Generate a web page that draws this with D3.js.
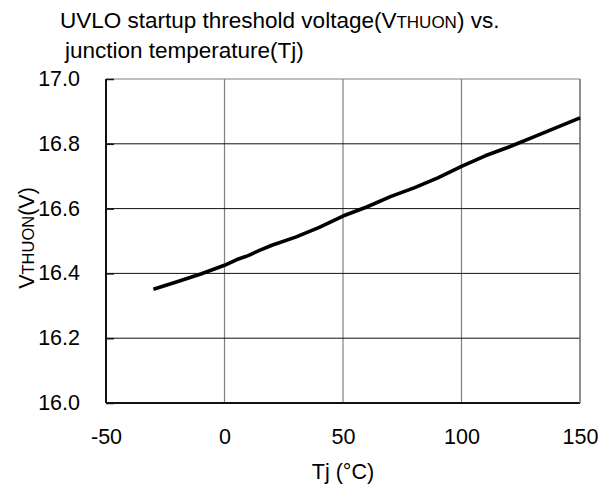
<!DOCTYPE html>
<html><head><meta charset="utf-8">
<script src="https://cdn.jsdelivr.net/npm/d3@7"></script>
<style>
html,body{margin:0;padding:0;background:#fff;}
svg{display:block;font-family:"Liberation Sans",Arial,sans-serif;}
</style></head>
<body><svg id="c" width="601" height="493"></svg>
<script>
const temps = [-30,-20,-10,0,5,10,15,20,30,40,50,60,70,80,90,100,110,120,130,140,150];
const vthuon = [16.351,16.374,16.398,16.425,16.442,16.455,16.472,16.487,16.512,16.542,16.577,16.605,16.637,16.664,16.695,16.730,16.763,16.790,16.820,16.850,16.880];
const xTicks = [-50,0,50,100,150];
const yTicks = [16.0,16.2,16.4,16.6,16.8,17.0];

const svg = d3.select("#c");
const L=106, R=580, T=79, B=403;
const x = d3.scaleLinear().domain([-50,150]).range([L,R]);
const y = d3.scaleLinear().domain([16.0,17.0]).range([B,T]);

// vertical grid (grey)
svg.append("g").selectAll("line").data(xTicks.slice(1)).join("line")
  .attr("x1",d=>x(d)).attr("x2",d=>x(d)).attr("y1",T).attr("y2",B)
  .attr("stroke","#808080").attr("stroke-width",1.2);
// top border grey
svg.append("line").attr("x1",L).attr("x2",R).attr("y1",T).attr("y2",T)
  .attr("stroke","#808080").attr("stroke-width",1.2);
// horizontal grid (black)
svg.append("g").selectAll("line").data(yTicks.slice(1,-1)).join("line")
  .attr("x1",L).attr("x2",R).attr("y1",d=>y(d)).attr("y2",d=>y(d))
  .attr("stroke","#111").attr("stroke-width",1);

// axes
const yAxis = d3.axisLeft(y).tickValues(yTicks).tickFormat(d3.format(".1f")).tickSize(-8).tickPadding(26);
const gy = svg.append("g").attr("transform",`translate(${L},0)`).call(yAxis);
gy.select(".domain").attr("stroke","#111").attr("stroke-width",2).attr("d",`M0,${T}V${B}`);
gy.selectAll(".tick line").attr("stroke","#111").attr("stroke-width",1.5);
gy.selectAll("text").attr("font-size",21.5).attr("fill","#000").attr("font-family","Liberation Sans, Arial, sans-serif").attr("dy","0.3em");

const xAxis = d3.axisBottom(x).tickValues(xTicks).tickFormat(d=>String(d)).tickSize(0).tickPadding(26);
const gx = svg.append("g").attr("transform",`translate(0,${B})`).call(xAxis);
gx.select(".domain").attr("stroke","#111").attr("stroke-width",2).attr("d",`M${L},0H${R}`);
gx.selectAll("text").attr("font-size",21.5).attr("fill","#000").attr("font-family","Liberation Sans, Arial, sans-serif");

// right border grey
svg.append("line").attr("x1",R).attr("x2",R).attr("y1",T).attr("y2",B)
  .attr("stroke","#808080").attr("stroke-width",1.5);

// data line
const line = d3.line().x((d,i)=>x(temps[i])).y(d=>y(d));
svg.append("path").datum(vthuon).attr("d",line)
  .attr("fill","none").attr("stroke","#000").attr("stroke-width",3.6).attr("stroke-linejoin","round");

// title
const t1 = svg.append("text").attr("x",60).attr("y",28).attr("font-size",22.5).attr("fill","#000");
t1.append("tspan").text("UVLO startup threshold voltage(V");
t1.append("tspan").attr("font-size",17).text("THUON");
t1.append("tspan").text(") vs.");
svg.append("text").attr("x",65).attr("y",58).attr("font-size",22.5).attr("fill","#000")
  .text("junction temperature(Tj)");

// x title
svg.append("text").attr("x",(L+R)/2).attr("y",479).attr("text-anchor","middle")
  .attr("font-size",21.5).attr("fill","#000").text("Tj (°C)");

// y title
const yt = svg.append("text").attr("transform",`translate(34,${(T+B)/2 - 3}) rotate(-90)`)
  .attr("text-anchor","middle").attr("font-size",21.5).attr("fill","#000");
yt.append("tspan").text("V");
yt.append("tspan").attr("font-size",16.5).text("THUON");
yt.append("tspan").text("(V)");
</script></body></html>
